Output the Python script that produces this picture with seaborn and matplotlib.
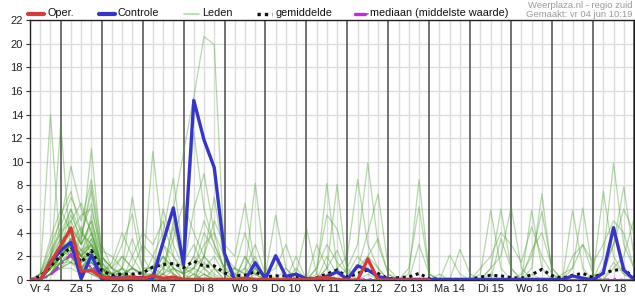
import numpy as np
import pandas as pd
import matplotlib
matplotlib.use("Agg")
import matplotlib.pyplot as plt
import seaborn as sns
from matplotlib.lines import Line2D

# ---------------- data ----------------
day_labels = ["Vr 4", "Za 5", "Zo 6", "Ma 7", "Di 8", "Wo 9", "Do 10", "Vr 11",
              "Za 12", "Zo 13", "Ma 14", "Di 15", "Wo 16", "Do 17", "Vr 18"]
y_ticks = [0, 2, 4, 6, 8, 10, 12, 14, 16, 18, 20, 22]

# 6-hourly steps, starting Vr 4 06:00 (in days since Vr 4 00:00)
t_start = 0.25
t_step = 0.25
n_steps = 60

controle = [0, 0, 1.5, 2.5, 3.2, 0.1, 2.1, 0.15, 0.2, 0.15, 0.2, 0.2,
            0.2, 3.2, 6.1, 1.3, 15.2, 11.85, 9.5, 2.25, 0, 0, 1.47, 0.1,
            2.05, 0.3, 0.5, 0.1, 0.05, 0.3, 0.7, 0.05, 1.2, 0.85, 0.3, 0.1,
            0.05, 0.05, 0.05, 0.05, 0.05, 0.05, 0.05, 0.05, 0.05, 0.05, 0.05, 0.05,
            0.05, 0.05, 0.05, 0.05, 0.05, 0.34, 0.15, 0, 0.6, 4.43, 0.85, 0.05]

oper = [0, 0, 1.5, 2.9, 4.4, 0.75, 0.8, 0.25, 0.15, 0.15, 0.2, 0.15,
        0.35, 0.15, 0.25, 0.05, 0.05, 0.05, 0.05, 0.05, 0.05, 0.15, 0.05, 0.05,
        0.05, 0.05, 0.05, 0.05, 0.15, 0.2, 0.05, 0, 0, 1.78, 0, 0,
        0, 0, 0, 0]

gemiddelde = [0, 0.3, 1.2, 2.0, 2.8, 1.5, 2.5, 0.8, 0.4, 0.5, 0.5, 0.6,
              1.1, 1.3, 1.4, 1.05, 1.6, 1.15, 1.2, 0.6, 0.35, 0.4, 0.7, 0.25,
              0.35, 0.35, 0.3, 0.1, 0.2, 0.5, 0.85, 0.23, 0.56, 0.85, 0.56, 0.1,
              0.2, 0.25, 0.56, 0.1, 0.05, 0.05, 0.05, 0.05, 0.25, 0.4, 0.35, 0.2,
              0.15, 0.45, 0.9, 0.35, 0.15, 0.4, 0.56, 0.2, 0.6, 0.8, 0.95, 0.15]

mediaan = [0, 0, 0.4, 1.3, 2.2, 0.6, 1.3, 0.1, 0, 0, 0, 0,
           0, 0, 0, 0, 0, 0.1, 0, 0, 0, 0, 0, 0,
           0, 0, 0, 0, 0, 0, 0, 0, 0, 0.1, 0, 0,
           0, 0, 0, 0, 0, 0, 0, 0, 0, 0, 0, 0,
           0, 0, 0, 0, 0, 0, 0, 0, 0, 0.1, 0, 0]

Z = [0, 0, 0, 0]
leden = [
    [0,0.5,14.0,2.0, 3.0,1.0,0.5,0.2, 0,0.3,1.0,0.2, 0.5,2.0,0.5,0, 0,1.0,0.3,0, *Z, *Z, *Z, 0,0.5,0,0, *Z, *Z, *Z, 0,0.5,0,0, *Z, *Z],
    [0,0,1.0,13.2, 2.0,4.0,3.0,1.0, 0.5,0,0,0, 0,0.5,1.5,0.5, 2.0,1.0,0,0, 0,0,0.5,0, *Z, 0,0.5,0,0, *Z, *Z, *Z, *Z, *Z, *Z, 0,1.5,0.5,0],
    [0,0.5,3.0,5.0, 9.6,6.0,4.0,1.0, 0.5,1.0,0,0, *Z, 0.5,0,0,0, *Z, *Z, *Z, *Z, *Z, *Z, 0,0.5,0,0, *Z, *Z, *Z],
    [0,0,2.0,4.0, 5.0,3.0,11.1,2.0, 1.0,0.5,0,0, 0,0,1.0,0, *Z, *Z, *Z, *Z, *Z, *Z, *Z, *Z, *Z, *Z, *Z],
    [0,0,1.0,2.0, 3.0,2.0,1.0,0.5, 0.5,2.0,1.0,0.5, 10.9,3.0,1.0,0.5, 0,0.5,0,0, *Z, *Z, *Z, *Z, *Z, *Z, *Z, *Z, *Z, *Z],
    [0,0,0.5,2.0, 3.0,1.0,0.5,0.2, 0,0.5,1.0,0.5, 1.0,3.0,6.0,10.8, 15.5,20.6,19.9,2.0, 0.5,0,1.0,0, *Z, *Z, *Z, *Z, *Z, *Z, *Z, *Z, *Z],
    [0,0,1.5,3.0, 4.0,2.0,3.0,1.0, 0.5,0,0.5,0, 2.0,4.0,8.6,2.0, 12.5,6.0,3.0,1.0, 1.0,0.5,2.0,0, *Z, *Z, *Z, *Z, *Z, *Z, *Z, *Z, *Z],
    [0,0,1.0,2.0, 2.5,1.5,2.0,0.5, 0,0.3,0,0, 0,1.0,0.5,0, 1.0,3.0,4.0,2.0, 1.0,0.5,8.2,1.0, *Z, *Z, *Z, *Z, *Z, *Z, *Z, *Z, *Z],
    [0,0,0.5,1.5, 2.0,1.0,1.5,0.5, 0.3,0,0,0, *Z, 0,2.0,1.0,0.5, 0,1.0,3.0,0.5, 5.5,1.0,0,0, *Z, *Z, *Z, *Z, *Z, *Z, *Z, *Z],
    [0,0,1.0,2.0, 3.5,2.5,4.0,1.0, 0,1.0,0,0, *Z, 0,0.5,0,0, *Z, 0,0,0.5,4.4, 0.5,0,0,0, *Z, *Z, *Z, *Z, *Z, *Z, *Z],
    [0,0,0.5,1.0, 1.5,1.0,2.0,0.5, 0,0,0.5,0, 0,0.5,0,0, *Z, *Z, *Z, 0.5,8.2,1.0,0, *Z, *Z, *Z, *Z, *Z, *Z, *Z],
    [0,0,1.0,2.5, 4.5,3.0,5.0,1.0, 0.5,0,0,0, *Z, *Z, *Z, *Z, 0,1.0,8.1,0.5, 2.0,1.0,0,0, *Z, *Z, *Z, *Z, *Z, *Z],
    [0,0,0.5,1.5, 2.0,0.5,1.0,0, *Z, 0.5,0,0,0, *Z, *Z, *Z, 1.0,5.5,4.3,1.0, *Z, *Z, *Z, *Z, *Z, *Z, *Z],
    [0,0,1.0,2.0, 3.0,2.0,1.0,0, *Z, *Z, *Z, *Z, *Z, 0,0,0,1.0, 3.0,9.9,3.0,0.5, *Z, *Z, *Z, *Z, *Z, *Z],
    [0,0,1.5,2.5, 2.0,1.0,0.5,0, *Z, *Z, *Z, *Z, *Z, 0,0,1.0,2.0, 8.5,3.0,1.0,0, *Z, *Z, *Z, *Z, *Z, *Z],
    [0,0,0.5,1.0, 1.0,0.5,1.5,0.5, 0,0.5,0,0, *Z, *Z, *Z, *Z, *Z, 1.0,4.0,7.3,1.0, *Z, *Z, *Z, *Z, *Z, *Z],
    [0,0,2.0,3.5, 6.0,4.0,6.5,1.5, 0.5,0,0,0, *Z, *Z, *Z, *Z, *Z, *Z, 0,0.5,8.5,0.5, *Z, *Z, *Z, *Z, *Z],
    [0,0,1.0,2.0, 2.5,1.5,3.0,0.5, *Z, *Z, *Z, *Z, *Z, *Z, *Z, 0,1.0,6.2,0.5, *Z, *Z, *Z, *Z, *Z],
    [0,0,0.5,1.5, 1.5,1.0,2.5,0.5, *Z, *Z, *Z, *Z, *Z, *Z, *Z, *Z, 0,2.1,0.5,0, *Z, *Z, *Z, *Z],
    [0,0,1.0,3.0, 5.5,3.5,7.5,2.0, 1.0,0.5,0,0, *Z, *Z, *Z, *Z, *Z, *Z, *Z, 0.5,0,2.6,0.5, 0,1.0,6.0,1.0, *Z, *Z, *Z],
    [0,0,0.5,2.0, 3.0,2.0,2.0,0.5, *Z, *Z, *Z, *Z, *Z, *Z, *Z, *Z, *Z, 0.5,5.9,1.0,0, *Z, *Z, *Z],
    [0,0,1.5,2.0, 3.5,2.0,5.5,1.0, 0.5,0,0,0, *Z, *Z, *Z, *Z, *Z, *Z, *Z, *Z, 0,1.0,2.0,6.2, 1.0,0,0,0, *Z, *Z],
    [0,0,1.0,1.5, 2.0,1.0,1.0,0, *Z, *Z, *Z, *Z, *Z, *Z, *Z, *Z, *Z, *Z, 0,1.0,7.3,0.5, *Z, *Z],
    [0,0,0.5,1.0, 2.0,1.5,3.5,1.0, *Z, *Z, *Z, *Z, *Z, *Z, *Z, *Z, *Z, *Z, 0.5,2.0,5.8,1.0, *Z, *Z],
    [0,0,1.0,2.5, 4.0,2.5,2.0,0.5, *Z, *Z, *Z, *Z, *Z, *Z, *Z, *Z, *Z, *Z, 0,5.9,1.0,0, *Z, *Z],
    [0,0,0.5,1.5, 2.5,1.0,1.5,0.5, *Z, *Z, *Z, *Z, *Z, *Z, *Z, *Z, *Z, *Z, *Z, 0,5.9,1.0,0, *Z],
    [0,0,1.0,2.0, 3.0,1.5,2.5,0.5, *Z, *Z, *Z, *Z, *Z, *Z, *Z, *Z, *Z, *Z, *Z, 0.5,1.0,6.1,0.5, *Z],
    [0,0,1.5,3.0, 4.5,3.0,4.5,1.0, *Z, *Z, *Z, *Z, *Z, *Z, *Z, *Z, *Z, *Z, *Z, *Z, 2.0,9.9,3.0,1.0],
    [0,0,0.5,1.0, 1.5,0.5,1.0,0, *Z, *Z, *Z, *Z, *Z, *Z, *Z, *Z, *Z, *Z, *Z, 0,0,0,0.5, 7.5,2.0,0.5,0],
    [0,0,1.0,2.0, 3.0,2.0,3.5,1.0, *Z, *Z, *Z, *Z, *Z, *Z, *Z, *Z, *Z, *Z, *Z, *Z, 1.0,3.0,7.9,2.0],
    [0,0,0.5,1.5, 2.0,1.0,2.0,0.5, *Z, *Z, *Z, *Z, *Z, *Z, *Z, *Z, *Z, *Z, *Z, *Z, 0,1.0,2.0,5.2],
    [0,0,1.0,2.0, 3.0,2.0,3.0,1.0, 1.0,3.0,5.6,1.0, 1.0,2.0,1.0,0.5, 2.0,5.0,3.0,1.0, 0,2.0,0.5,0, 0,1.0,0,0, *Z, *Z, *Z, *Z, *Z, *Z, *Z, *Z],
    [0,0,0.5,1.5, 2.0,1.0,2.0,0.5, 0.5,1.0,7.0,2.0, 0.5,6.0,3.0,1.0, 1.0,2.0,7.0,1.5, 0.5,1.0,0,0, 0,0,2.0,0, *Z, *Z, *Z, *Z, *Z, *Z, *Z, *Z],
    [0,0,1.0,2.5, 3.5,2.0,4.0,1.0, 0,0.5,1.0,3.0, 2.0,1.0,4.5,1.0, 6.0,9.0,4.0,0.5, 1.0,4.0,1.0,0.5, 1.0,3.0,0.5,0, 1.0,3.0,1.5,0.5, 1.0,2.0,1.0,0, *Z, *Z, *Z, *Z, *Z, *Z],
    [0,0,2.0,4.5, 7.0,5.0,8.5,3.0, 1.0,0,0.5,0, 0,1.5,0.5,0, 0.5,0,1.0,0, *Z, *Z, *Z, *Z, *Z, *Z, *Z, *Z, *Z, *Z],
    [0,0,1.0,2.0, 3.0,1.5,2.5,0.5, *Z, *Z, *Z, *Z, *Z, *Z, *Z, *Z, *Z, 1.0,2.0,4.0,3.0, 1.5,4.5,2.0,0.5, 0,1.0,3.0,1.5, 3.0,5.0,4.0,1.0],
    [0,0.5,2.5,4.0, 6.0,3.0,5.0,2.0, 1.0,2.0,1.0,0.5, 0.5,3.0,2.0,1.0, 0.5,1.5,0.5,0, *Z, *Z, 0,2.0,0.5,0, *Z, *Z, *Z, *Z, *Z, *Z, *Z, *Z],
    [0,0,1.5,3.5, 4.0,5.5,6.0,2.5, 2.0,1.0,3.5,1.0, 1.0,0.5,5.0,1.5, 3.0,1.0,2.0,0.5, 0,0,1.0,0, *Z, *Z, *Z, *Z, *Z, *Z, *Z, 0,2.0,3.0,0.5, *Z],
    [0,0.5,2.0,5.5, 7.5,4.0,3.0,1.0, 0.5,0,2.0,4.0, 3.0,5.0,2.0,0.5, 1.0,4.0,2.5,1.0, 0.5,0,0,0, *Z, *Z, 0,2.0,3.5,0.5, *Z, *Z, *Z, *Z, *Z, *Z],
    [0,0,1.0,2.0, 5.0,6.5,4.0,1.5, 0,1.0,0.5,0, 0,1.0,3.5,6.5, 4.0,2.0,1.0,0, 1.0,0,0,0, *Z, 0,1.0,2.5,0.5, *Z, *Z, *Z, *Z, 0,2.5,4.0,1.0, *Z, *Z],
    [0,0,1.0,3.0, 2.0,3.5,8.0,2.0, 0.5,0.5,1.0,0.5, 0,0.5,1.0,0, 0,2.0,5.0,3.0, 2.0,6.5,1.0,0, 0,0,1.0,0, *Z, *Z, *Z, *Z, *Z, *Z, *Z, *Z],
    [0,0.5,3.5,6.0, 4.0,2.0,1.5,0.5, *Z, *Z, *Z, *Z, *Z, *Z, *Z, 0,0,3.0,0.5, *Z, *Z, *Z, *Z, 0.5,3.0,6.0,4.0],
    [0,0,0.5,2.0, 3.0,4.5,2.0,0.5, 1.5,4.0,2.0,0.5, 0.5,0.5,0,0, *Z, 0,2.0,0.5,0, *Z, 3.0,1.0,0,0, *Z, *Z, *Z, *Z, *Z, *Z, *Z],
    [0,0,1.5,2.0, 1.5,2.5,3.0,1.5, 0.5,0,0,0, 0.5,2.0,1.0,0.5, 1.0,0.5,0,0, *Z, *Z, *Z, *Z, *Z, *Z, 0,0,3.5,1.0, *Z, *Z, *Z],
]

# ---------------- build tables ----------------
t_all = t_start + t_step * np.arange(n_steps)
rows = []
for m, vals in enumerate(leden):
    for tt, v in zip(t_all, vals):
        rows.append((m, tt, v))
df_leden = pd.DataFrame(rows, columns=["lid", "t", "mm"])
df_ctrl = pd.DataFrame({"t": t_all[:len(controle)], "mm": controle})
df_oper = pd.DataFrame({"t": t_all[:len(oper)], "mm": oper})
df_mean = pd.DataFrame({"t": t_all[:len(gemiddelde)], "mm": gemiddelde})
df_med = pd.DataFrame({"t": t_all[:len(mediaan)], "mm": mediaan})

# ---------------- style ----------------
sns.set_theme(style="white")
plt.rcParams["font.family"] = ["Liberation Sans", "DejaVu Sans"]

W, H = 635, 300
fig = plt.figure(figsize=(W / 100, H / 100), dpi=100)
fig.patch.set_facecolor("white")
ax = fig.add_axes([30 / W, 20 / H, 604 / W, 260 / H])
ax.set_facecolor("white")

C_RED = "#d83a3a"
C_BLUE = "#3535cc"
C_GREEN = "#4a9e2c"
C_MAG = "#cc22ee"

# grid
for xv in t_all:
    if abs(xv - round(xv)) < 1e-9:
        ax.axvline(xv, color="#5a5a5a", lw=1.2, zorder=0.6)
    else:
        ax.axvline(xv, color="#dcdcdc", lw=1.0, zorder=0.5)
for yv in y_ticks[1:]:
    ax.axhline(yv, color="#dcdcdc", lw=1.0, zorder=0.5)

sns.lineplot(data=df_leden, x="t", y="mm", units="lid", estimator=None,
             color=C_GREEN, alpha=0.4, lw=0.9, ax=ax, legend=False, zorder=2)
sns.lineplot(data=df_med, x="t", y="mm", color=C_MAG, lw=1.6,
             linestyle=(0, (5, 2, 1, 2)), ax=ax, legend=False, zorder=3)
sns.lineplot(data=df_mean, x="t", y="mm", color="#111111", lw=2.2,
             linestyle=(0, (1, 1.2)), ax=ax, legend=False, zorder=4)
sns.lineplot(data=df_ctrl, x="t", y="mm", color=C_BLUE, lw=2.4,
             ax=ax, legend=False, zorder=5)
sns.lineplot(data=df_oper, x="t", y="mm", color=C_RED, lw=2.4,
             ax=ax, legend=False, zorder=6)

ax.set_xlim(t_start, t_all[-1])
ax.set_ylim(0, 22)
ax.set_xlabel("")
ax.set_ylabel("")
ax.set_xticks(np.arange(len(day_labels)) + 0.5)
ax.set_xticklabels(day_labels, fontsize=8, color="#222222")
ax.set_yticks(y_ticks)
ax.set_yticklabels([str(v) for v in y_ticks], fontsize=8, color="#222222")
ax.tick_params(axis="x", length=0, pad=3)
ax.tick_params(axis="y", length=3, width=0.8, color="#333333", pad=2, left=True)
for s in ax.spines.values():
    s.set_color("#222222")
    s.set_linewidth(1.0)
    s.set_visible(True)

# ---------------- legend (manual, in figure pixels) ----------------
def fx(px):
    return px / W

def fy(py):
    return 1 - py / H

ly = 13.5
fig.add_artist(Line2D([fx(28), fx(44)], [fy(ly), fy(ly)], color=C_RED, lw=3))
fig.text(fx(48), fy(ly), "Oper.", fontsize=7.8, va="center", ha="left", color="#111111")
fig.add_artist(Line2D([fx(99), fx(115)], [fy(ly), fy(ly)], color=C_BLUE, lw=3))
fig.text(fx(118), fy(ly), "Controle", fontsize=7.8, va="center", ha="left", color="#111111")
fig.add_artist(Line2D([fx(184), fx(199)], [fy(ly), fy(ly)], color="#b5d9a5", lw=1.2))
fig.text(fx(202), fy(ly), "Leden", fontsize=7.8, va="center", ha="left", color="#111111")
fig.add_artist(Line2D([fx(257), fx(272)], [fy(ly), fy(ly)], color="#111111", lw=2.4,
                      linestyle=(0, (1, 1.2))))
fig.text(fx(276), fy(ly), "gemiddelde", fontsize=7.8, va="center", ha="left", color="#111111")
fig.add_artist(Line2D([fx(355), fx(365)], [fy(ly), fy(ly)], color=C_MAG, lw=2.4))
fig.add_artist(Line2D([fx(366.5), fx(368)], [fy(ly), fy(ly)], color="#777777", lw=1.2))
fig.text(fx(370), fy(ly), "mediaan (middelste waarde)", fontsize=7.8, va="center",
         ha="left", color="#111111")
fig.text(fx(633), fy(5), "Weerplaza.nl - regio zuid", fontsize=6.8, va="center",
         ha="right", color="#9a9a9a")
fig.text(fx(633), fy(14.7), "Gemaakt: vr 04 jun 10:19", fontsize=6.8, va="center",
         ha="right", color="#9a9a9a")

fig.savefig("out.png", dpi=100, facecolor="white")
